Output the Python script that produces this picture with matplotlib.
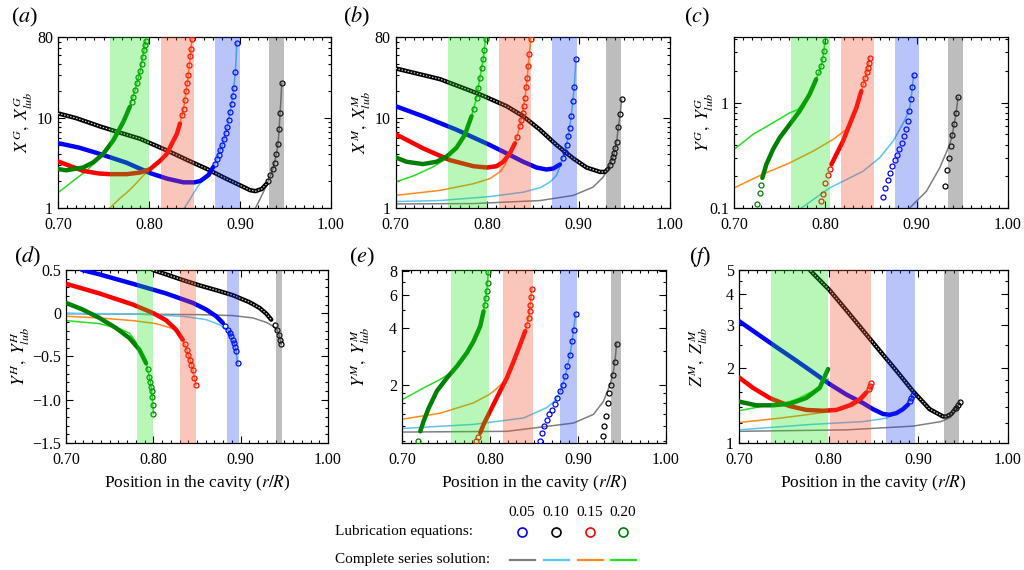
import matplotlib
matplotlib.use("Agg")
import matplotlib.pyplot as plt
from matplotlib.lines import Line2D
from matplotlib.ticker import FixedLocator, NullFormatter, MultipleLocator

plt.rcParams['font.family'] = ['Liberation Serif', 'DejaVu Serif']
plt.rcParams['mathtext.fontset'] = 'stix'

# every panel holds four gaps, in this order: 0.05, 0.10, 0.15, 0.20
gaps = ['0.05', '0.10', '0.15', '0.20']

# (a) X^G
a_band = [(0.932, 0.9485), (0.872, 0.8996), (0.8136, 0.849), (0.757, 0.800)]
a_ser_05 = [(0.917, 1.0), (0.921, 1.2), (0.925, 1.45), (0.928, 1.7), (0.931, 2.0), (0.9335, 2.3), (0.936, 2.7),
            (0.938, 3.2), (0.940, 4.0), (0.9418, 5.2), (0.943, 7.5), (0.944, 11.3), (0.945, 16), (0.9459, 24.5)]
a_lub_05 = [(0.700, 11.3), (0.720, 10.0), (0.746, 8.1), (0.770, 6.8), (0.790, 5.9), (0.820, 4.36), (0.842, 3.42),
            (0.864, 2.71), (0.886, 2.09), (0.900, 1.79), (0.911, 1.58), (0.917, 1.54), (0.924, 1.63), (0.929, 1.85)]
a_dot_05 = [(0.931, 2.0), (0.9335, 2.3), (0.936, 2.7), (0.938, 3.2), (0.940, 4.0), (0.9418, 5.2), (0.943, 7.5),
            (0.944, 11.3), (0.9459, 24.5)]
a_ser_10 = [(0.8388, 1.0), (0.845, 1.25), (0.8527, 1.68), (0.8638, 2.38), (0.8705, 2.85), (0.8745, 3.5),
            (0.8805, 5.0), (0.886, 8.0), (0.8908, 14.5), (0.8932, 21.6), (0.895, 33), (0.8965, 69)]
a_lub_10 = [(0.700, 5.27), (0.723, 4.7), (0.746, 4.0), (0.775, 3.2), (0.801, 2.45), (0.820, 2.12), (0.838, 1.93),
            (0.850, 1.93), (0.8565, 2.0), (0.8655, 2.33), (0.8705, 2.85)]
a_dot_10 = [(0.8725, 3.1), (0.8745, 3.5), (0.8765, 3.9), (0.8785, 4.4), (0.8805, 5.0), (0.8825, 5.8), (0.8845, 6.8),
            (0.886, 8.0), (0.8878, 9.6), (0.8893, 11.8), (0.8908, 14.5), (0.892, 17.5), (0.8932, 21.6),
            (0.895, 33), (0.8965, 69)]
a_ser_15 = [(0.757, 1.0), (0.768, 1.28), (0.7755, 1.48), (0.783, 1.75), (0.790, 2.09), (0.798, 2.55), (0.805, 3.0),
            (0.812, 3.45), (0.8196, 4.0), (0.825, 5.18), (0.8307, 6.7), (0.834, 8.7), (0.838, 12.8),
            (0.8421, 24.6), (0.8443, 38.6), (0.8472, 75.8)]
a_lub_15 = [(0.700, 3.30), (0.7276, 2.59), (0.745, 2.42), (0.757, 2.38), (0.7755, 2.38), (0.790, 2.48),
            (0.801, 2.7), (0.8123, 3.36), (0.8196, 4.0), (0.825, 5.18), (0.8307, 6.7), (0.834, 8.7)]
a_dot_15 = [(0.8362, 10.8), (0.838, 12.8), (0.8399, 15.9), (0.841, 19.8), (0.8421, 24.6), (0.8432, 30.5),
            (0.8443, 38.6), (0.8454, 49), (0.8461, 59.5), (0.8472, 75.8)]
a_ser_20 = [(0.700, 1.48), (0.7166, 2.0), (0.7313, 2.59), (0.746, 3.66), (0.7497, 4.0), (0.7607, 5.65),
            (0.7718, 9.1), (0.779, 13.4), (0.7847, 20.7), (0.7902, 33.3), (0.7946, 58), (0.7964, 72.6)]
a_lub_20 = [(0.700, 2.71), (0.709, 2.63), (0.7276, 2.82), (0.7386, 3.21), (0.7497, 4.0), (0.7607, 5.65),
            (0.7718, 9.1), (0.779, 13.4)]
a_dot_20 = [(0.781, 15.3), (0.7828, 17.4), (0.7847, 20.7), (0.7865, 24.6), (0.7883, 28.5), (0.7902, 33.3),
            (0.792, 39.6), (0.7935, 48.5), (0.7946, 58), (0.7957, 66), (0.7964, 72.6)]

# (b) X^M
b_band = [(0.930, 0.946), (0.871, 0.898), (0.813, 0.848), (0.7576, 0.800)]
b_ser_05 = [(0.700, 1.11), (0.785, 1.12), (0.858, 1.21), (0.8943, 1.38), (0.916, 1.71), (0.927, 2.21),
            (0.9326, 2.75), (0.9362, 3.32), (0.9388, 4.06), (0.9417, 5.49), (0.9435, 7.89), (0.9455, 11),
            (0.9472, 16.2)]
b_lub_05 = [(0.700, 35.8), (0.7485, 27.2), (0.7922, 18.4), (0.8214, 13.6), (0.8396, 10.5), (0.8579, 7.43),
            (0.876, 5.03), (0.8943, 3.56), (0.9089, 2.82), (0.9235, 2.52), (0.929, 2.52), (0.9326, 2.75)]
b_dot_05 = [(0.9345, 3.0), (0.9362, 3.32), (0.9375, 3.7), (0.9388, 4.06), (0.9403, 4.7), (0.9417, 5.49),
            (0.9435, 7.89), (0.9455, 11), (0.9472, 16.2)]
b_ser_10 = [(0.700, 1.18), (0.7485, 1.21), (0.803, 1.34), (0.8396, 1.50), (0.858, 1.68), (0.869, 1.95),
            (0.876, 2.31), (0.8797, 2.9), (0.8826, 3.62), (0.8852, 4.23), (0.8888, 6.25), (0.8921, 10.5),
            (0.8954, 22.3), (0.8972, 45.6)]
b_lub_10 = [(0.700, 13.6), (0.730, 10.5), (0.7667, 7.43), (0.803, 5.03), (0.8214, 4.06), (0.8396, 3.27),
            (0.8542, 2.82), (0.865, 2.68), (0.8724, 2.75), (0.8797, 3.05)]
b_dot_10 = [(0.8826, 3.62), (0.8852, 4.23), (0.887, 5.03), (0.8888, 6.25), (0.8907, 7.76), (0.8921, 10.5),
            (0.8936, 15.5), (0.8954, 22.3), (0.8972, 45.6)]
b_ser_15 = [(0.700, 1.38), (0.7485, 1.57), (0.785, 1.86), (0.803, 2.12), (0.814, 2.52), (0.8196, 3.0),
            (0.825, 4.06), (0.8305, 5.25), (0.836, 8.1), (0.8415, 16.9), (0.844, 28.3), (0.8462, 52), (0.848, 76)]
b_lub_15 = [(0.700, 6.64), (0.730, 4.62), (0.7594, 3.41), (0.785, 2.92), (0.7995, 2.82), (0.8105, 2.92),
            (0.8178, 3.27), (0.825, 4.06), (0.8305, 5.25)]
b_dot_15 = [(0.833, 6.2), (0.836, 8.1), (0.8375, 9.6), (0.8389, 11.4), (0.840, 13.8), (0.8415, 16.9),
            (0.843, 22), (0.844, 28.3), (0.8452, 38), (0.8462, 52), (0.848, 76)]
b_ser_20 = [(0.700, 1.95), (0.7193, 2.27), (0.7412, 2.87), (0.7558, 3.56), (0.7667, 4.69), (0.7758, 6.52),
            (0.7831, 10.5), (0.7886, 16.9), (0.7922, 28.3), (0.7959, 45.7), (0.7984, 76)]
b_lub_20 = [(0.700, 3.66), (0.712, 3.27), (0.730, 3.08), (0.7448, 3.27), (0.7558, 3.72), (0.7667, 4.69),
            (0.7758, 6.52), (0.7831, 10.5)]
b_dot_20 = [(0.7855, 12.8), (0.7886, 16.9), (0.7905, 21.5), (0.7922, 28.3), (0.794, 36), (0.7959, 45.7),
            (0.797, 58), (0.7984, 76)]

# (c) Y^G
c_band = [(0.9347, 0.9511), (0.876, 0.903), (0.8175, 0.853), (0.762, 0.8047)]
c_ser_05 = [(0.8923, 0.1), (0.9106, 0.144), (0.9252, 0.24), (0.9361, 0.40), (0.939, 0.49), (0.9409, 0.622),
            (0.9431, 0.79), (0.9453, 1.12)]
c_lub_05 = []
c_dot_05 = [(0.9314, 0.161), (0.9336, 0.227), (0.9354, 0.30), (0.9372, 0.386), (0.939, 0.49), (0.9409, 0.622),
            (0.9431, 0.79), (0.9453, 1.12)]
c_ser_10 = [(0.7737, 0.1), (0.8047, 0.155), (0.8412, 0.223), (0.8595, 0.30), (0.8741, 0.43), (0.8814, 0.557),
            (0.8869, 0.68), (0.892, 0.86), (0.8938, 1.08), (0.8953, 1.41), (0.8967, 1.83)]
c_lub_10 = []
c_dot_10 = [(0.8635, 0.127), (0.8657, 0.155), (0.8682, 0.183), (0.8708, 0.216), (0.8734, 0.249), (0.8759, 0.284),
            (0.8785, 0.322), (0.881, 0.367), (0.8836, 0.416), (0.8858, 0.482), (0.888, 0.557), (0.8901, 0.669),
            (0.892, 0.833), (0.8938, 1.08), (0.8953, 1.41), (0.8967, 1.83)]
c_ser_15 = [(0.700, 0.155), (0.7318, 0.21), (0.761, 0.268), (0.7865, 0.346), (0.8084, 0.447), (0.823, 0.557),
            (0.8303, 0.75), (0.834, 0.896), (0.8394, 1.29), (0.8438, 1.73), (0.8467, 2.15), (0.8485, 2.68)]
c_lub_15 = [(0.8066, 0.259), (0.812, 0.322), (0.8193, 0.431), (0.8266, 0.622), (0.834, 0.896), (0.8394, 1.29)]
c_dot_15 = [(0.7956, 0.117), (0.7975, 0.136), (0.7993, 0.173), (0.803, 0.207), (0.805, 0.235), (0.8415, 1.5),
            (0.8438, 1.73), (0.8455, 1.95), (0.8467, 2.15), (0.8478, 2.4), (0.8485, 2.68)]
c_ser_20 = [(0.700, 0.36), (0.7208, 0.50), (0.7427, 0.645), (0.761, 0.80), (0.770, 0.86), (0.7828, 1.2),
            (0.790, 1.67), (0.7956, 2.23), (0.7985, 3.1), (0.7993, 3.81)]
c_lub_20 = [(0.731, 0.193), (0.7354, 0.259), (0.7427, 0.36), (0.75, 0.464), (0.761, 0.622), (0.7719, 0.833),
            (0.7828, 1.2), (0.790, 1.67)]
c_dot_20 = [(0.7252, 0.11), (0.728, 0.139), (0.7295, 0.165), (0.7925, 1.95), (0.7956, 2.23), (0.797, 2.6),
            (0.7985, 3.1), (0.7993, 3.81)]

# (d) Y^H
d_band = [(0.9407, 0.9472), (0.8846, 0.8976), (0.8311, 0.849), (0.7818, 0.7994)]
d_ser_05 = [(0.700, -0.005), (0.8528, -0.016), (0.891, -0.027), (0.914, -0.054), (0.9293, -0.105),
            (0.9388, -0.159), (0.9415, -0.19), (0.9438, -0.248), (0.9453, -0.306), (0.9465, -0.357)]
d_lub_05 = [(0.7994, 0.5), (0.8146, 0.45), (0.8337, 0.384), (0.8528, 0.322), (0.872, 0.267), (0.891, 0.209),
            (0.910, 0.128), (0.9216, 0.062), (0.9293, -0.004), (0.935, -0.074)]
d_dot_05 = [(0.9388, -0.132), (0.9415, -0.19), (0.9438, -0.248), (0.9453, -0.306), (0.9465, -0.357)]
d_ser_10 = [(0.700, 0.0), (0.7764, -0.008), (0.8337, -0.035), (0.8605, -0.074), (0.8758, -0.132),
            (0.8853, -0.19), (0.8891, -0.267), (0.8922, -0.345), (0.8949, -0.442), (0.8964, -0.578)]
d_lub_10 = [(0.7183, 0.5), (0.7382, 0.45), (0.7764, 0.341), (0.8146, 0.229), (0.8452, 0.12), (0.8605, 0.043),
            (0.872, -0.035), (0.8796, -0.112)]
d_dot_10 = [(0.8825, -0.15), (0.8853, -0.19), (0.8875, -0.23), (0.8891, -0.267), (0.8907, -0.31),
            (0.8922, -0.345), (0.8937, -0.39), (0.8949, -0.442), (0.8964, -0.578)]
d_ser_15 = [(0.700, -0.035), (0.7382, -0.054), (0.7764, -0.085), (0.8031, -0.12), (0.8223, -0.178),
            (0.830, -0.245), (0.8337, -0.306), (0.8383, -0.422), (0.8421, -0.539), (0.8452, -0.655),
            (0.8471, -0.752), (0.849, -0.829)]
d_lub_15 = [(0.700, 0.341), (0.7382, 0.229), (0.7764, 0.101), (0.7994, 0.004), (0.8146, -0.081), (0.826, -0.19),
            (0.8337, -0.306)]
d_dot_15 = [(0.836, -0.36), (0.8383, -0.422), (0.840, -0.48), (0.8421, -0.539), (0.8437, -0.6), (0.8452, -0.655),
            (0.8471, -0.752), (0.849, -0.829)]
d_ser_20 = [(0.700, -0.085), (0.7382, -0.12), (0.7612, -0.178), (0.7726, -0.23), (0.780, -0.33),
            (0.7841, -0.422), (0.7917, -0.578), (0.7955, -0.733), (0.7975, -0.849), (0.7986, -0.965),
            (0.8001, -1.159)]
d_lub_20 = [(0.700, 0.12), (0.7191, 0.043), (0.7382, -0.054), (0.7573, -0.171), (0.7726, -0.287),
            (0.7841, -0.422), (0.7917, -0.578)]
d_dot_20 = [(0.7935, -0.64), (0.7955, -0.733), (0.7965, -0.79), (0.7975, -0.849), (0.798, -0.9),
            (0.7986, -0.965), (0.7995, -1.06), (0.8001, -1.159)]

# (e) Y^M
e_band = [(0.9376, 0.949), (0.8797, 0.8986), (0.8143, 0.8487), (0.756, 0.7991)]
e_ser_05 = [(0.700, 1.12), (0.8192, 1.13), (0.8949, 1.25), (0.9176, 1.39), (0.9289, 1.63), (0.9365, 2.0),
            (0.9402, 2.35), (0.9418, 2.63), (0.944, 3.3)]
e_lub_05 = []
e_dot_05 = [(0.9281, 1.07), (0.93, 1.21), (0.9316, 1.36), (0.9338, 1.60), (0.9357, 1.81), (0.9376, 2.0),
            (0.9395, 2.26), (0.9418, 2.63), (0.944, 3.3)]
e_ser_10 = [(0.700, 1.17), (0.7813, 1.23), (0.8381, 1.33), (0.8646, 1.51), (0.875, 1.66), (0.8797, 1.85),
            (0.8827, 2.0), (0.8854, 2.21), (0.888, 2.50), (0.891, 2.88), (0.8933, 3.39), (0.8949, 3.9),
            (0.8975, 4.76)]
e_lub_10 = []
e_dot_10 = [(0.8563, 1.008), (0.8589, 1.11), (0.8616, 1.21), (0.8646, 1.30), (0.8676, 1.39), (0.8706, 1.47),
            (0.8737, 1.57), (0.8767, 1.70), (0.8797, 1.85), (0.8827, 2.0), (0.8854, 2.21), (0.888, 2.50),
            (0.891, 2.88), (0.8933, 3.39), (0.8949, 3.9), (0.8975, 4.76)]
e_ser_15 = [(0.700, 1.31), (0.7435, 1.41), (0.7813, 1.60), (0.800, 1.78), (0.810, 1.95), (0.8192, 2.17),
            (0.8268, 2.65), (0.8343, 3.26), (0.84, 3.84), (0.8438, 4.51), (0.8457, 5.3), (0.8476, 6.46)]
e_lub_15 = [(0.7889, 1.11), (0.7927, 1.23), (0.7984, 1.39), (0.804, 1.57), (0.8116, 1.85), (0.8192, 2.17),
            (0.8268, 2.65), (0.8343, 3.26), (0.84, 3.84)]
e_dot_15 = [(0.7844, 1.008), (0.7865, 1.06), (0.842, 4.15), (0.8438, 4.51), (0.845, 4.9), (0.8457, 5.3),
            (0.8467, 5.85), (0.8476, 6.46)]
e_ser_20 = [(0.700, 1.66), (0.7246, 1.92), (0.7435, 2.13), (0.7549, 2.3), (0.7624, 2.50), (0.7738, 2.95),
            (0.7813, 3.39), (0.7889, 4.08), (0.7927, 4.89), (0.7953, 5.77), (0.7972, 6.94), (0.798, 7.9)]
e_lub_20 = [(0.7208, 1.13), (0.7246, 1.28), (0.7303, 1.50), (0.7397, 1.85), (0.7511, 2.17), (0.7624, 2.50),
            (0.7738, 2.95), (0.7813, 3.39), (0.7889, 4.08), (0.7927, 4.89)]
e_dot_20 = [(0.7178, 1.008), (0.7942, 5.3), (0.7953, 5.77), (0.7963, 6.3), (0.7972, 6.94), (0.798, 7.9)]

# (f) Z^M
f_band = [(0.9283, 0.9454), (0.8643, 0.8959), (0.8011, 0.8476), (0.7361, 0.7993)]
f_ser_05 = [(0.700, 1.115), (0.820, 1.13), (0.894, 1.17), (0.925, 1.22), (0.936, 1.27), (0.9424, 1.37),
            (0.9461, 1.47)]
f_lub_05 = [(0.7796, 4.97), (0.8011, 4.14), (0.8197, 3.44), (0.8383, 2.85), (0.8569, 2.36), (0.8755, 1.96),
            (0.894, 1.62), (0.9126, 1.37), (0.9275, 1.28), (0.9312, 1.28), (0.9368, 1.31), (0.9424, 1.39)]
f_dot_05 = [(0.9424, 1.39), (0.9445, 1.43), (0.9461, 1.47)]
f_ser_10 = [(0.700, 1.13), (0.7825, 1.19), (0.8383, 1.22), (0.8643, 1.26), (0.8829, 1.37), (0.8922, 1.52),
            (0.894, 1.57)]
f_lub_10 = [(0.700, 3.11), (0.7268, 2.66), (0.7454, 2.39), (0.764, 2.15), (0.7825, 1.93), (0.8011, 1.73),
            (0.8197, 1.57), (0.8383, 1.45), (0.8494, 1.37), (0.8606, 1.31), (0.868, 1.30), (0.8755, 1.32),
            (0.8829, 1.37), (0.8885, 1.43)]
f_dot_10 = [(0.8905, 1.48), (0.8922, 1.52), (0.894, 1.57)]
f_ser_15 = [(0.700, 1.21), (0.7454, 1.26), (0.7751, 1.30), (0.8011, 1.34), (0.8271, 1.41), (0.8383, 1.50),
            (0.8476, 1.67)]
f_lub_15 = [(0.700, 1.84), (0.7156, 1.67), (0.7342, 1.52), (0.7565, 1.41), (0.7751, 1.36), (0.7937, 1.35),
            (0.8086, 1.36), (0.8234, 1.42), (0.8346, 1.50), (0.842, 1.60)]
f_dot_15 = [(0.8445, 1.65), (0.8465, 1.70), (0.8476, 1.75)]
f_ser_20 = [(0.700, 1.35), (0.7268, 1.41), (0.7454, 1.43), (0.764, 1.50), (0.7825, 1.62), (0.7993, 1.81)]
f_lub_20 = [(0.700, 1.47), (0.7193, 1.42), (0.7379, 1.42), (0.7565, 1.44), (0.7751, 1.52), (0.790, 1.67),
            (0.7993, 1.99)]
f_dot_20 = []

lub_colors = ['black', '#0000ff', '#ff0000', '#008000']
ser_colors = ['#808080', '#5ec4f2', '#ff8a1c', '#22e022']
band_colors = ['#4a4a4a', '#1a3cf0', '#f25030', '#19e619']
band_alpha = [0.36, 0.30, 0.33, 0.30]

W, H = 1024, 570
fig = plt.figure(figsize=(W / 100, H / 100), dpi=100)


def add_axes(l, t, r, b):
    return fig.add_axes([l / W, 1 - b / H, (r - l) / W, (b - t) / H])


def xy(pts):
    return [p[0] for p in pts], [p[1] for p in pts]


def draw(ax, bands, sets):
    for (ser, lub, dots), lc, sc in zip(sets, lub_colors, ser_colors):
        if ser:
            ax.plot(*xy(ser), color=sc, lw=1.1, zorder=2)
    for (ser, lub, dots), lc, sc in zip(sets, lub_colors, ser_colors):
        if lub:
            ax.plot(*xy(lub), color=lc, lw=3.2, solid_capstyle='round', zorder=3)
            if lc == 'black':
                # hollow-ring look of the packed black markers
                ax.plot(*xy(lub), color='white', lw=0.9, ls=(0, (1.2, 1.3)), alpha=0.8, zorder=3)
        if dots:
            ax.plot(*xy(dots), 'o', ms=3.6, mfc='none', mec=lc, mew=0.9, zorder=4)
    for (lo, hi), bc, ba in zip(bands, band_colors, band_alpha):
        ax.axvspan(lo, hi, color=bc, alpha=ba, lw=0, zorder=5)


def style(ax, log, ylim, yt, ylab, yminor, ylabel, lx, xlabel=False):
    ax.set_xlim(0.70, 1.00)
    ax.xaxis.set_major_locator(FixedLocator([0.70, 0.80, 0.90, 1.00]))
    ax.set_xticklabels(['0.70', '0.80', '0.90', '1.00'])
    ax.xaxis.set_minor_locator(MultipleLocator(0.01))
    if log:
        ax.set_yscale('log')
    ax.set_ylim(*ylim)
    ax.yaxis.set_major_locator(FixedLocator(yt))
    ax.set_yticklabels(ylab)
    ax.yaxis.set_minor_locator(FixedLocator(yminor) if isinstance(yminor, list) else yminor)
    ax.yaxis.set_minor_formatter(NullFormatter())
    ax.tick_params(which='both', direction='in', top=True, right=True, labelsize=11.5, width=0.8)
    ax.tick_params(axis='x', which='major', pad=6.5)
    ax.tick_params(axis='y', which='major', pad=3.5)
    ax.tick_params(which='major', length=5)
    ax.tick_params(which='minor', length=2.5)
    for s in ax.spines.values():
        s.set_linewidth(0.9)
    ax.set_ylabel(ylabel, fontsize=12.5)
    ax.yaxis.label.set_va('center')
    ax.yaxis.set_label_coords(lx, 0.5)
    if xlabel:
        ax.set_xlabel('Position in the cavity ($r/R$)', fontsize=12.5)
        ax.xaxis.label.set_va('center')
        ax.xaxis.set_label_coords(0.5, -0.232)


log_minor_ab = [2, 3, 4, 5, 6, 7, 8, 9, 20, 30, 40, 50, 60, 70]

ax_a = add_axes(58, 37, 331, 208)
draw(ax_a, a_band, [(a_ser_05, a_lub_05, a_dot_05), (a_ser_10, a_lub_10, a_dot_10),
                    (a_ser_15, a_lub_15, a_dot_15), (a_ser_20, a_lub_20, a_dot_20)])
style(ax_a, True, (1, 80), [1, 10, 80], ['1', '10', '80'], log_minor_ab,
      r'$X^{G},\ X^{G}_{lub}$', -0.128)

ax_b = add_axes(395.5, 37, 670, 208)
draw(ax_b, b_band, [(b_ser_05, b_lub_05, b_dot_05), (b_ser_10, b_lub_10, b_dot_10),
                    (b_ser_15, b_lub_15, b_dot_15), (b_ser_20, b_lub_20, b_dot_20)])
style(ax_b, True, (1, 80), [1, 10, 80], ['1', '10', '80'], log_minor_ab,
      r'$X^{M},\ X^{M}_{lub}$', -0.124)

ax_c = add_axes(734, 37, 1008, 208)
draw(ax_c, c_band, [(c_ser_05, c_lub_05, c_dot_05), (c_ser_10, c_lub_10, c_dot_10),
                    (c_ser_15, c_lub_15, c_dot_15), (c_ser_20, c_lub_20, c_dot_20)])
style(ax_c, True, (0.1, 4.2), [0.1, 1], ['0.1', '1'],
      [0.2, 0.3, 0.4, 0.5, 0.6, 0.7, 0.8, 0.9, 2, 3, 4], r'$Y^{G},\ Y^{G}_{lub}$', -0.108)

ax_d = add_axes(66, 270, 328, 443)
draw(ax_d, d_band, [(d_ser_05, d_lub_05, d_dot_05), (d_ser_10, d_lub_10, d_dot_10),
                    (d_ser_15, d_lub_15, d_dot_15), (d_ser_20, d_lub_20, d_dot_20)])
style(ax_d, False, (-1.5, 0.5), [-1.5, -1.0, -0.5, 0, 0.5],
      ['\u22121.5', '\u22121.0', '\u22120.5', '0', '0.5'], MultipleLocator(0.1),
      r'$Y^{H},\ Y^{H}_{lub}$', -0.176, xlabel=True)

ax_e = add_axes(402, 270, 666, 443)
draw(ax_e, e_band, [(e_ser_05, e_lub_05, e_dot_05), (e_ser_10, e_lub_10, e_dot_10),
                    (e_ser_15, e_lub_15, e_dot_15), (e_ser_20, e_lub_20, e_dot_20)])
style(ax_e, True, (0.98, 8.1), [2, 4, 6, 8], ['2', '4', '6', '8'],
      [1, 1.2, 1.4, 1.6, 1.8, 3, 5, 7], r'$Y^{M},\ Y^{M}_{lub}$', -0.159, xlabel=True)

ax_f = add_axes(739, 270, 1008, 443)
draw(ax_f, f_band, [(f_ser_05, f_lub_05, f_dot_05), (f_ser_10, f_lub_10, f_dot_10),
                    (f_ser_15, f_lub_15, f_dot_15), (f_ser_20, f_lub_20, f_dot_20)])
style(ax_f, True, (1, 5), [1, 2, 3, 4, 5], ['1', '2', '3', '4', '5'],
      [1.2, 1.4, 1.6, 1.8, 2.5, 3.5, 4.5], r'$Z^{M},\ Z^{M}_{lub}$', -0.152, xlabel=True)

# panel tags
for tag, px, py in [('a', 25, 17), ('b', 357, 17), ('c', 697, 17),
                    ('d', 28, 257), ('e', 362, 257), ('f', 700, 257)]:
    fig.text(px / W, 1 - py / H, '($%s$)' % tag, fontsize=16, ha='center', va='center')

# shared legend below the panels
cols = [522, 556, 590, 623]
for g, cx in zip(gaps, cols):
    fig.text(cx / W, 1 - 512 / H, g, fontsize=11, ha='center', va='center')
fig.text(335 / W, 1 - 532 / H, 'Lubrication equations:', fontsize=11, ha='left', va='center')
fig.text(335 / W, 1 - 560 / H, 'Complete series solution:', fontsize=11, ha='left', va='center')
for cx, mc in zip(cols, ['#0000ff', 'black', '#ff0000', '#008000']):
    fig.add_artist(Line2D([cx / W], [1 - 532 / H], marker='o', ms=6.5, mfc='none', mec=mc, mew=1.2,
                          transform=fig.transFigure))
for cx, lc in zip(cols, ['#808080', '#5ec4f2', '#ff8a1c', '#22e022']):
    fig.add_artist(Line2D([(cx - 12.5) / W, (cx + 12.5) / W], [1 - 560 / H] * 2, color=lc, lw=1.6,
                          transform=fig.transFigure))

fig.savefig('out.png', dpi=100)
